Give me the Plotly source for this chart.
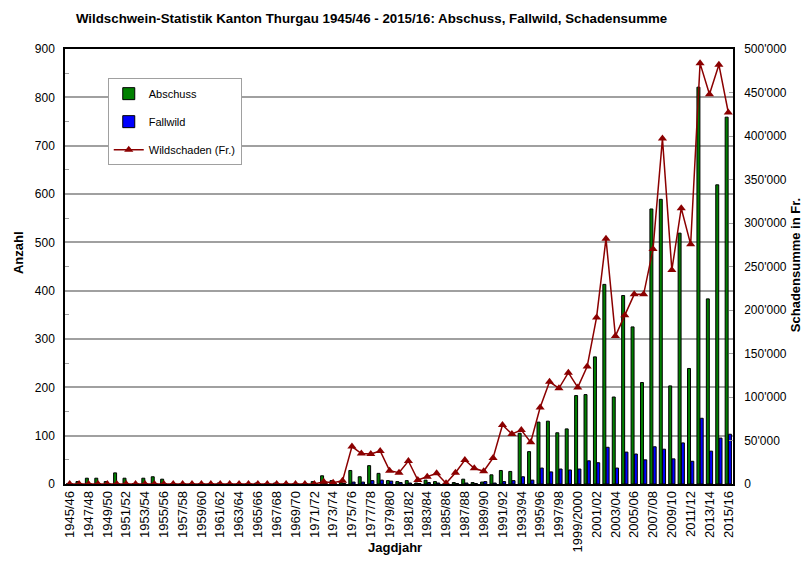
import plotly.graph_objects as go

# --- data ---
seasons = []
for y in range(1945, 2016):
    if y == 1999:
        seasons.append("1999/2000")
    else:
        seasons.append(f"{y}/{str(y + 1)[-2:]}")

abschuss = [1, 5, 12, 12, 5, 23, 12, 1, 12, 15,
            10, 0, 0, 0, 0, 0, 2, 0, 0, 0,
            2, 0, 2, 0, 0, 0, 5, 17, 7, 3,
            28, 15, 38, 22, 7, 5, 7, 2, 8, 5,
            1, 3, 10, 3, 4, 19, 28, 26, 105, 67,
            128, 130, 106, 114, 183, 185, 263, 413, 180, 390,
            325, 210, 569, 589, 203, 519, 239, 821, 383, 619,
            759]

fallwild = [0, 0, 0, 0, 0, 0, 0, 0, 0, 0,
            0, 0, 0, 0, 0, 0, 0, 0, 0, 0,
            0, 0, 0, 0, 0, 0, 0, 1, 1, 1,
            4, 4, 7, 8, 6, 3, 2, 1, 3, 2,
            0, 1, 2, 1, 5, 2, 5, 7, 15, 8,
            33, 25, 31, 29, 31, 48, 44, 76, 33, 66,
            62, 50, 77, 72, 52, 85, 47, 136, 68, 95,
            103]

wildschaden = [0, 0, 0, 0, 0, 0, 0, 0, 0, 0,
               0, 0, 0, 0, 0, 0, 0, 0, 0, 0,
               0, 0, 0, 0, 0, 0, 0, 2600, 1500, 3800,
               43000, 35000, 34500, 38000, 15300, 13000, 26400, 4600, 8400, 12300,
               800, 13000, 27600, 18000, 14600, 30000, 67800, 57500, 62000, 48000,
               88000, 117500, 110000, 128000, 111000, 135000, 191500, 282000, 170000, 194000,
               218000, 218000, 270000, 397000, 246000, 317000, 275500, 483500, 448000, 482000,
               427000]

left_ticks = list(range(0, 901, 100))
right_ticks = list(range(0, 500001, 50000))
right_labels = ["0"] + [f"{v // 1000}'000" for v in right_ticks[1:]]

FONT = "Liberation Sans, Arial, sans-serif"

fig = go.Figure()
fig.add_trace(go.Bar(
    x=seasons, y=abschuss, name="Abschuss", legendgroup="a",
    marker=dict(color="#008000", line=dict(color="black", width=1)),
))
fig.add_trace(go.Bar(
    x=seasons, y=fallwild, name="Fallwild", legendgroup="b",
    marker=dict(color="#0000FF", line=dict(color="black", width=1)),
))
fig.add_trace(go.Scatter(
    x=seasons, y=wildschaden, name="Wildschaden (Fr.)", legendgroup="c",
    yaxis="y2", mode="lines+markers",
    line=dict(color="#8B0000", width=1.5),
    marker=dict(symbol="triangle-up", size=8, color="#8B0000"),
))

fig.update_layout(
    width=802, height=555,
    margin=dict(l=57, r=77, t=41, b=79),
    paper_bgcolor="white", plot_bgcolor="white",
    font=dict(family=FONT, size=12, color="black"),
    title=dict(
        text="<b>Wildschwein-Statistik Kanton Thurgau 1945/46 - 2015/16: Abschuss, Fallwild, Schadensumme</b>",
        x=0.4533, xanchor="center", y=0.982, yanchor="middle",
        font=dict(size=13.3, family=FONT),
    ),
    barmode="group", bargap=0.3, bargroupgap=0.1,
    showlegend=True,
    legend=dict(
        x=0.064, y=0.933, xanchor="left", yanchor="top",
        bgcolor="white", bordercolor="#A0A0A0", borderwidth=1,
        font=dict(size=11, family=FONT),
        tracegroupgap=9, traceorder="grouped",
        itemwidth=30,
    ),
    xaxis=dict(
        type="category", range=[-0.5, 70.5], automargin=False,
        tickvals=seasons[::2], ticktext=seasons[::2],
        tickangle=-90, tickfont=dict(size=13),
        showline=True, linecolor="black", linewidth=1.5, mirror=True,
        showgrid=False, ticks="",
    ),
    yaxis=dict(
        range=[0, 900], tickvals=left_ticks, automargin=False,
        showline=True, linecolor="black", linewidth=1.5,
        showgrid=True, gridcolor="#A0A0A0", gridwidth=1.5,
        ticks="inside", ticklen=4, tickcolor="#A0A0A0",
        ticklabelstandoff=6,
        minor=dict(dtick=50, ticks="inside", ticklen=4, tickcolor="#A0A0A0", showgrid=False),
        zeroline=False,
    ),
    yaxis2=dict(
        overlaying="y", side="right", automargin=False,
        range=[0, 500000], tickvals=right_ticks, ticktext=right_labels,
        showline=True, linecolor="black", linewidth=1.5,
        showgrid=False, zeroline=False,
        ticks="inside", ticklen=4, tickcolor="#A0A0A0",
        ticklabelstandoff=7,
    ),
    annotations=[
        dict(text="<b>Jagdjahr</b>", x=0.494, y=-0.147, xref="paper", yref="paper",
             showarrow=False, xanchor="center", yanchor="middle", font=dict(size=13)),
        dict(text="<b>Anzahl</b>", x=(10 - 57) / 668, y=0.531, xref="paper", yref="paper",
             showarrow=False, xanchor="center", yanchor="middle", textangle=-90,
             font=dict(size=13)),
        dict(text="<b>Schadensumme in Fr.</b>", x=(787 - 57) / 668, y=0.503,
             xref="paper", yref="paper",
             showarrow=False, xanchor="center", yanchor="middle", textangle=-90,
             font=dict(size=13)),
    ],
)

fig.write_html("out.html")
